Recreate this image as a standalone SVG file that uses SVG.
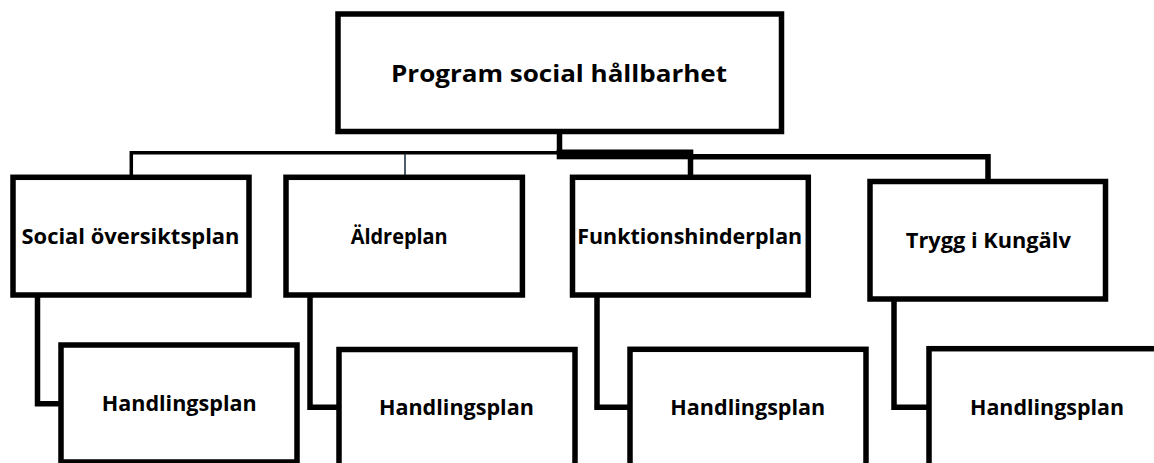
<svg xmlns="http://www.w3.org/2000/svg" width="1154" height="463" viewBox="0 0 1154 463">
  <style>
    .box { fill: #ffffff; stroke: #000000; stroke-width: 5.5; }
    .lbl { font-family: "Open Sans", "Liberation Sans", Arial, sans-serif; font-weight: bold; font-size: 21px; fill: #000000; text-anchor: middle; }
    .title { font-size: 24px; }
    .conn { fill: none; stroke: #000000; stroke-width: 5.5; stroke-linejoin: miter; }
    .thin { fill: none; stroke: #000000; stroke-width: 3.5; stroke-linejoin: miter; }
    .gray { fill: none; stroke: #3b4a5e; stroke-width: 1.8; }
  </style>
  <rect width="1154" height="463" fill="#ffffff"/>

  <g id="connectors">
    <path class="conn" d="M559.5,131 V152"/>
    <rect x="556.7" y="149.5" width="136.6" height="9.8" fill="#000000"/>
    <path class="thin" d="M557,152.8 H131.3 V177"/>
    <path class="gray" d="M405,154 V177"/>
    <path class="conn" d="M690.5,158 V177"/>
    <path class="conn" d="M692,156.7 H988 V181"/>
    <path class="conn" d="M37.5,296 V403.7 H61"/>
    <path class="conn" d="M310,296 V407.2 H339"/>
    <path class="conn" d="M597,296 V407.2 H630"/>
    <path class="conn" d="M894,299 V407.2 H929"/>
  </g>

  <g id="node-program">
    <rect class="box" x="338" y="14" width="443.5" height="117.5"/>
    <text class="lbl title" x="559" y="81.7" textLength="336" lengthAdjust="spacingAndGlyphs">Program social hållbarhet</text>
  </g>

  <g id="node-social">
    <rect class="box" x="13" y="177.3" width="236" height="117.7"/>
    <text class="lbl" x="130.5" y="244.3" textLength="218" lengthAdjust="spacingAndGlyphs">Social översiktsplan</text>
  </g>

  <g id="node-aldre">
    <rect class="box" x="286" y="177.3" width="236.4" height="117.7"/>
    <text class="lbl" x="399.2" y="244.3" textLength="97" lengthAdjust="spacingAndGlyphs">Äldreplan</text>
  </g>

  <g id="node-funktion">
    <rect class="box" x="572.5" y="177.3" width="235.8" height="117.7"/>
    <text class="lbl" x="689.7" y="243.8" textLength="225" lengthAdjust="spacingAndGlyphs">Funktionshinderplan</text>
  </g>

  <g id="node-trygg">
    <rect class="box" x="870" y="181.5" width="235.5" height="117.5"/>
    <text class="lbl" x="988.3" y="248.3" textLength="165" lengthAdjust="spacingAndGlyphs">Trygg i Kungälv</text>
  </g>

  <g id="node-handling-1">
    <rect class="box" x="61" y="345" width="236" height="117"/>
    <text class="lbl" x="179.2" y="411" textLength="155" lengthAdjust="spacingAndGlyphs">Handlingsplan</text>
  </g>

  <g id="node-handling-2">
    <rect class="box" x="339" y="349.5" width="236" height="130"/>
    <text class="lbl" x="456.4" y="415" textLength="155" lengthAdjust="spacingAndGlyphs">Handlingsplan</text>
  </g>

  <g id="node-handling-3">
    <rect class="box" x="630" y="349.3" width="236" height="130"/>
    <text class="lbl" x="747.8" y="415" textLength="155" lengthAdjust="spacingAndGlyphs">Handlingsplan</text>
  </g>

  <g id="node-handling-4">
    <rect class="box" x="929" y="348.7" width="236" height="130"/>
    <text class="lbl" x="1047" y="415" textLength="154" lengthAdjust="spacingAndGlyphs">Handlingsplan</text>
  </g>
</svg>
